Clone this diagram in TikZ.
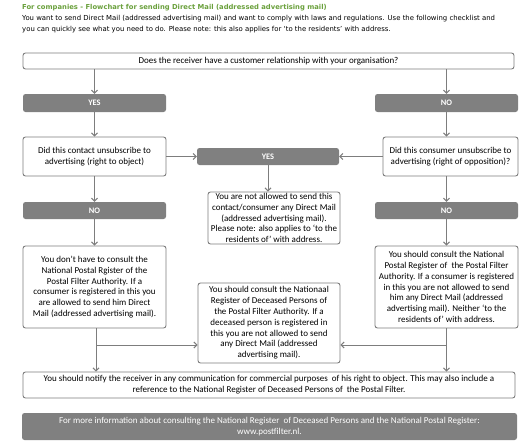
\documentclass[tikz,border=0pt]{standalone}
\usepackage{fontspec}
\setmainfont{Carlito}
\newfontfamily\headfont{DejaVu Sans}
\usetikzlibrary{positioning,arrows.meta}

\definecolor{bargray}{RGB}{128,128,128}
\definecolor{linegray}{RGB}{125,125,125}
\definecolor{titlegreen}{RGB}{106,160,60}

\begin{document}
\begin{tikzpicture}[x=1pt,y=-1pt]
        \tikzstyle{every node}=[font=\fontsize{9}{10.8}\selectfont, align=center, inner sep=1pt]
        \tikzstyle{box}=[draw=linegray, line width=0.9pt, rounded corners=2.5pt, fill=white]
        \tikzstyle{bar}=[fill=bargray, rounded corners=2.5pt, text=white, font=\fontsize{8.4}{10}\selectfont\bfseries]
        \tikzstyle{arrow}=[draw=linegray, line width=1pt, -{Straight Barb[length=3pt,width=6pt]}]

        \useasboundingbox (0,0) rectangle (526,444);

        % heading
        \node (title) [anchor=base west, text=titlegreen, font=\headfont\bfseries\fontsize{6.8}{8}\selectfont] at (21,10)
            {For companies - Flowchart for sending Direct Mail (addressed advertising mail)};
        \node (intro) [anchor=north west, align=left, font=\headfont\fontsize{6.9}{11}\selectfont] at (21,14.5)
            {You want to send Direct Mail (addressed advertising mail) and want to comply with laws and regulations. Use the following checklist and\\
             you can quickly see what you need to do. Please note: this also applies for ‘to the residents’ with address.};

        % boxes
        \node (question) [box, minimum width=491, minimum height=16] at (268.5,61)
            {Does the receiver have a customer relationship with your organisation?};
        \node (yesL) [bar, minimum width=143, minimum height=18] at (94.5,103) {YES};
        \node (noR)  [bar, minimum width=143, minimum height=18] at (446.5,103) {NO};
        \node (askL) [box, minimum width=143, minimum height=39] at (94.5,156.5)
            {Did this contact unsubscribe to\\ advertising (right to object)};
        \node (askR) [box, minimum width=135, minimum height=39] at (450.5,156.5)
            {Did this consumer unsubscribe to\\ advertising (right of opposition)?};
        \node (yesM) [bar, minimum width=142, minimum height=17] at (268,156.5) {YES};
        \node (forbidden) [box, minimum width=132, minimum height=52] at (274,218)
            {You are not allowed to send this\\ contact/consumer any Direct Mail\\ (addressed advertising mail).\\
             Please note: also applies to ‘to the\\ residents of’ with address.};
        \node (noL)  [bar, minimum width=143, minimum height=17] at (94.5,210.5) {NO};
        \node (noR2) [bar, minimum width=143, minimum height=17] at (446.5,210.5) {NO};
        \node (freeL) [box, minimum width=143, minimum height=82] at (94.5,287)
            {You don’t have to consult the\\ National Postal Rgister of the\\ Postal Filter Authority. If a\\
             consumer is registered in this you\\ are allowed to send him Direct\\ Mail (addressed advertising mail).};
        \node (consultR) [box, minimum width=143, minimum height=82] at (446.5,287)
            {You should consult the National\\ Postal Register of\ \ the Postal Filter\\ Authority. If a consumer is registered\\
             in this you are not allowed to send\\ him any Direct Mail (addressed\\ advertising mail). Neither ‘to the\\ residents of’ with address.};
        \node (deceased) [box, minimum width=142, minimum height=80] at (269,323)
            {You should consult the Nationaal\\ Register of Deceased Persons of\\ the Postal Filter Authority. If a\\
             deceased person is registered in\\ this you are not allowed to send\\ any Direct Mail (addressed\\ advertising mail).};
        \node (notify) [box, minimum width=492, minimum height=26] at (269,385)
            {You should notify the receiver in any communication for commercial purposes\ \ of his right to object. This may also include a\\
             reference to the National Register of Deceased Persons of\ \ the Postal Filter.};
        \node (info) [bar, font=\fontsize{9}{10.8}\selectfont, minimum width=495, minimum height=27] at (269.5,426.5)
            {For more information about consulting the National Register\ \ of Deceased Persons and the National Postal Register:\\ www.postfilter.nl.};

        \coordinate (joinL) at (96,345);
        \coordinate (joinR) at (446.5,345);

        % connectors
        \draw[arrow] (question.south -| yesL) -- (yesL);
        \draw[arrow] (question.south -| noR) -- (noR);
        \draw[arrow] (yesL) -- (askL);
        \draw[arrow] (noR) -- (noR |- askR.north);
        \draw[arrow] (askL) -- (yesM);
        \draw[arrow] (askR) -- (yesM);
        \draw[arrow] (yesM) -- (yesM |- forbidden.north);
        \draw[arrow] (askL) -- (noL);
        \draw[arrow] (askR.south -| noR2) -- (noR2);
        \draw[arrow] (noL) -- (freeL);
        \draw[arrow] (noR2) -- (consultR);
        \draw[arrow] (freeL.south -| joinL) -- (joinL |- notify.north);
        \draw[arrow] (consultR.south -| joinR) -- (joinR |- notify.north);
        \draw[arrow] (joinL) -- (joinL -| deceased.west);
        \draw[arrow] (joinR) -- (joinR -| deceased.east);

    \end{tikzpicture}
\end{document}
